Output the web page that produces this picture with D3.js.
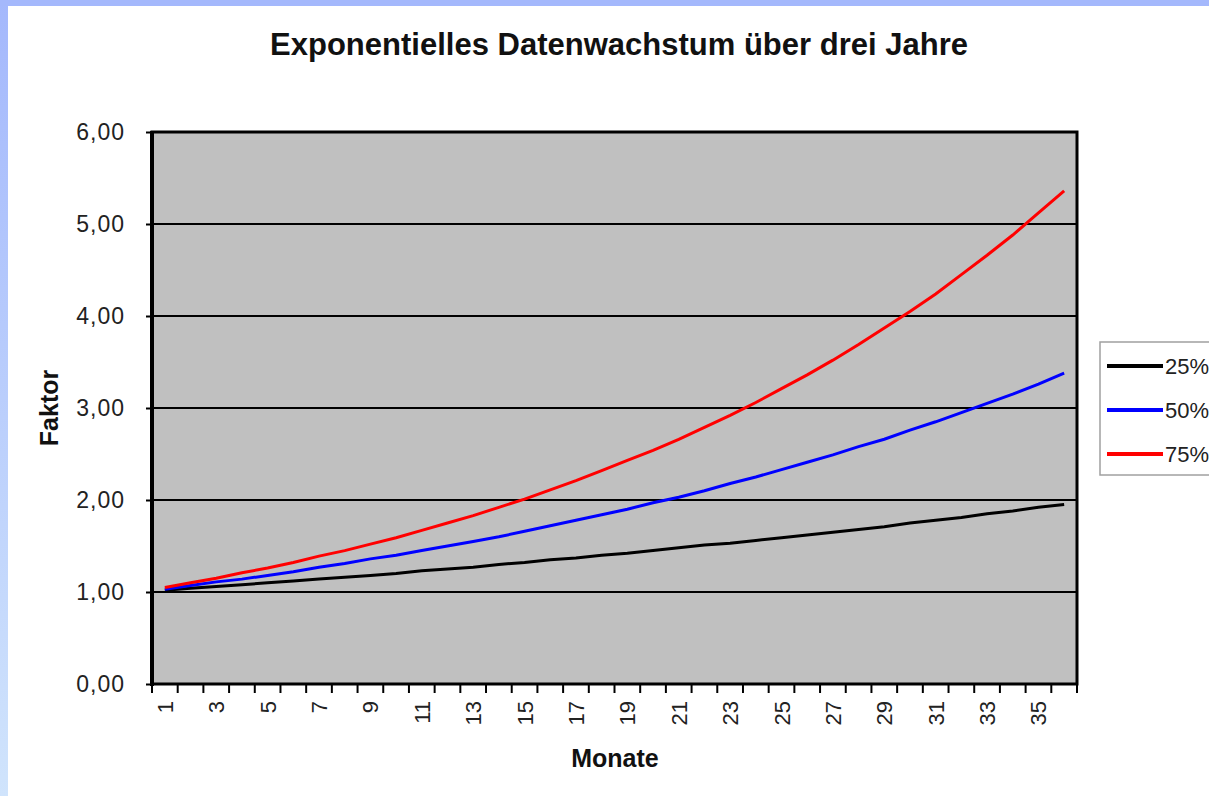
<!DOCTYPE html>
<html>
<head>
<meta charset="utf-8">
<script src="https://cdn.jsdelivr.net/npm/d3@7"></script>
<style>
  body { margin: 0; background: #fff; }
  svg { display: block; }
  text { font-family: "Liberation Sans", Arial, sans-serif; }
</style>
</head>
<body>
<svg id="chart" width="1209" height="796"></svg>
<script>
(function (window) {
    'use strict';

    var months = d3.range(1, 37);
    var yTicks = [0, 1, 2, 3, 4, 5, 6];
    var seriesNames = ['25%', '50%', '75%'];
    var seriesColors = ['#000000', '#0000ff', '#ff0000'];

    var growth25 = [1.02, 1.04, 1.06, 1.08, 1.10, 1.12, 1.14, 1.16, 1.18, 1.20, 1.23, 1.25,
                    1.27, 1.30, 1.32, 1.35, 1.37, 1.40, 1.42, 1.45, 1.48, 1.51, 1.53, 1.56,
                    1.59, 1.62, 1.65, 1.68, 1.71, 1.75, 1.78, 1.81, 1.85, 1.88, 1.92, 1.95];
    var growth50 = [1.03, 1.07, 1.11, 1.14, 1.18, 1.22, 1.27, 1.31, 1.36, 1.40, 1.45, 1.50,
                    1.55, 1.60, 1.66, 1.72, 1.78, 1.84, 1.90, 1.97, 2.03, 2.10, 2.18, 2.25,
                    2.33, 2.41, 2.49, 2.58, 2.66, 2.76, 2.85, 2.95, 3.05, 3.15, 3.26, 3.38];
    var growth75 = [1.05, 1.10, 1.15, 1.21, 1.26, 1.32, 1.39, 1.45, 1.52, 1.59, 1.67, 1.75,
                    1.83, 1.92, 2.01, 2.11, 2.21, 2.32, 2.43, 2.54, 2.66, 2.79, 2.92, 3.06,
                    3.21, 3.36, 3.52, 3.69, 3.87, 4.05, 4.24, 4.45, 4.66, 4.88, 5.12, 5.36];
    var seriesValues = [growth25, growth50, growth75];

    var svg = d3.select('#chart');

    // blauer Rahmen oben / links
    var grad = svg.append('defs').append('linearGradient')
        .attr('id', 'leftGrad')
        .attr('x1', 0).attr('y1', 0).attr('x2', 0).attr('y2', 1);
    grad.append('stop').attr('offset', '0%').attr('stop-color', '#a4b8fc');
    grad.append('stop').attr('offset', '100%').attr('stop-color', '#d0e4fc');
    svg.append('rect').attr('x', 0).attr('y', 0).attr('width', 8).attr('height', 796)
        .attr('fill', 'url(#leftGrad)');
    svg.append('rect').attr('x', 0).attr('y', 0).attr('width', 1209).attr('height', 6)
        .attr('fill', '#a4b8fc');

    var left = 152, right = 1077, top = 132, bottom = 684;

    var x = d3.scaleBand().domain(months).range([left, right]);
    var y = d3.scaleLinear().domain([0, 6]).range([bottom, top]);

    svg.append('rect')
        .attr('x', left).attr('y', top)
        .attr('width', right - left).attr('height', bottom - top)
        .attr('fill', '#c0c0c0');

    // Gitternetz
    svg.append('g').selectAll('line')
        .data(yTicks.slice(1, -1))
        .enter()
        .append('line')
        .attr('x1', left).attr('x2', right)
        .attr('y1', function (d) { return y(d); })
        .attr('y2', function (d) { return y(d); })
        .attr('stroke', '#000')
        .attr('stroke-width', 2);

    // Y-Achse
    var yAxis = svg.append('g')
        .attr('transform', 'translate(' + left + ',0)')
        .call(d3.axisLeft(y).tickValues(yTicks).tickSize(6).tickPadding(21)
            .tickFormat(function (d) { return d3.format('.2f')(d).replace('.', ','); }));
    yAxis.select('.domain').remove();
    yAxis.selectAll('.tick line').attr('stroke', '#000').attr('stroke-width', 2);
    yAxis.selectAll('text')
        .attr('font-size', 23)
        .attr('letter-spacing', 1)
        .attr('fill', '#222')
        .attr('font-family', '"Liberation Sans", Arial, sans-serif');

    // X-Achse: Striche zwischen den Kategorien
    var xg = svg.append('g');
    xg.selectAll('line')
        .data(months.concat([37]))
        .enter()
        .append('line')
        .attr('x1', function (d) { return d <= 36 ? x(d) : right; })
        .attr('x2', function (d) { return d <= 36 ? x(d) : right; })
        .attr('y1', bottom).attr('y2', bottom + 9)
        .attr('stroke', '#000')
        .attr('stroke-width', 2);
    xg.selectAll('text')
        .data(months.filter(function (d) { return d % 2 === 1; }))
        .enter()
        .append('text')
        .attr('transform', function (d) {
            return 'translate(' + (x(d) + x.bandwidth() / 2 + 8) + ',' + (bottom + 17) + ') rotate(-90)';
        })
        .attr('text-anchor', 'end')
        .attr('font-size', 22)
        .attr('fill', '#222')
        .text(function (d) { return d; });

    // Linien
    var line = d3.line()
        .x(function (d, i) { return x(months[i]) + x.bandwidth() / 2; })
        .y(function (d) { return y(d); });

    svg.append('g').selectAll('path')
        .data(seriesValues)
        .enter()
        .append('path')
        .attr('d', line)
        .attr('fill', 'none')
        .attr('stroke', function (d, i) { return seriesColors[i]; })
        .attr('stroke-width', 3);

    // Rahmen
    svg.append('rect')
        .attr('x', left).attr('y', top)
        .attr('width', right - left).attr('height', bottom - top)
        .attr('fill', 'none')
        .attr('stroke', '#000')
        .attr('stroke-width', 3);
    svg.append('line')
        .attr('x1', left).attr('x2', left).attr('y1', top - 1).attr('y2', bottom + 2)
        .attr('stroke', '#000').attr('stroke-width', 4);

    // Titel
    svg.append('text')
        .attr('x', 619).attr('y', 55)
        .attr('text-anchor', 'middle')
        .attr('font-size', 32)
        .attr('font-weight', 'bold')
        .attr('fill', '#111')
        .attr('textLength', 698)
        .attr('lengthAdjust', 'spacingAndGlyphs')
        .text('Exponentielles Datenwachstum über drei Jahre');

    svg.append('text')
        .attr('transform', 'translate(58,408) rotate(-90)')
        .attr('text-anchor', 'middle')
        .attr('font-size', 25)
        .attr('font-weight', 'bold')
        .attr('fill', '#111')
        .text('Faktor');

    svg.append('text')
        .attr('x', 615).attr('y', 767)
        .attr('text-anchor', 'middle')
        .attr('font-size', 25)
        .attr('font-weight', 'bold')
        .attr('fill', '#111')
        .text('Monate');

    // Legende
    var legend = svg.append('g');
    legend.append('rect')
        .attr('x', 1100).attr('y', 342)
        .attr('width', 140).attr('height', 133)
        .attr('fill', '#fff')
        .attr('stroke', '#a0a0a0')
        .attr('stroke-width', 1.5);
    var items = legend.selectAll('g.item')
        .data(seriesNames)
        .enter()
        .append('g')
        .attr('class', 'item')
        .attr('transform', function (d, i) { return 'translate(0,' + (366 + i * 44) + ')'; });
    items.append('line')
        .attr('x1', 1107).attr('x2', 1163)
        .attr('stroke', function (d, i) { return seriesColors[i]; })
        .attr('stroke-width', 4);
    items.append('text')
        .attr('x', 1165).attr('y', 8)
        .attr('font-size', 22)
        .attr('fill', '#222')
        .text(function (d) { return d; });

})(window);
</script>
</body>
</html>
